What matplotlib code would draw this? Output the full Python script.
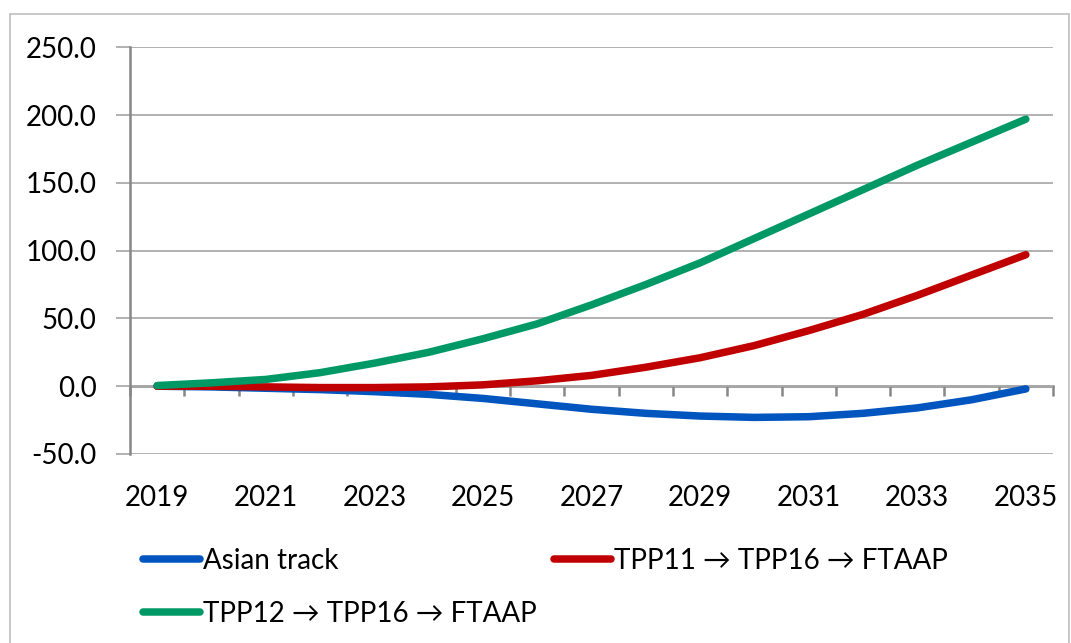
import matplotlib
matplotlib.use("Agg")
import matplotlib.pyplot as plt
from matplotlib.patches import Rectangle
import numpy as np

years = list(range(2019, 2036))
asian_track = [0.0, -0.5, -1.5, -2.5, -4.0, -6.0, -9.0, -13.0, -17.0, -20.0, -22.0, -23.0, -22.5, -20.0, -16.0, -10.0, -2.0]
tpp11_path = [0.0, 0.0, -0.5, -1.0, -1.0, -0.5, 1.0, 4.0, 8.0, 14.0, 21.0, 30.0, 41.0, 53.0, 67.0, 82.0, 97.0]
tpp12_path = [0.5, 2.5, 5.0, 10.0, 17.0, 25.0, 35.0, 46.0, 60.0, 75.0, 91.0, 109.0, 127.0, 145.0, 163.0, 180.0, 197.0]
series_labels = ["Asian track", "TPP11 \u2192 TPP16 \u2192 FTAAP", "TPP12 \u2192 TPP16 \u2192 FTAAP"]
series_colors = ["#0055BF", "#C00000", "#009966"]
y_ticks = [-50, 0, 50, 100, 150, 200, 250]

plt.rcParams['font.family'] = ['Lato', 'DejaVu Sans']
FS = 20

W, H = 1071, 643
fig = plt.figure(figsize=(W / 100, H / 100), dpi=100)
ax = fig.add_axes([130 / W, 1 - 454 / H, (1053 - 130) / W, (454 - 47.3) / H])

x = np.arange(len(years))
handles = []
for vals, lab, col in zip([asian_track, tpp11_path, tpp12_path], series_labels, series_colors):
    h, = ax.plot(x, vals, color=col, lw=5.4, solid_capstyle='round', label=lab, zorder=3)
    handles.append(h)

ax.set_xlim(-0.5, len(years) - 0.5)
ax.set_ylim(-50, 250)
ax.set_yticks(y_ticks)
ax.set_yticklabels([f"{v:.1f}" for v in y_ticks])
ax.grid(axis='y', color='#ababab', lw=1.3, zorder=0)
ax.tick_params(axis='y', length=10, width=1.3, color='#ababab', pad=14, labelsize=FS)

label_idx = list(range(0, len(years), 2))
ax.set_xticks(label_idx)
ax.set_xticklabels([str(years[i]) for i in label_idx])
ax.tick_params(axis='x', length=0, pad=22, labelsize=FS)

for s in ['top', 'right', 'bottom']:
    ax.spines[s].set_visible(False)
ax.spines['left'].set_color('#878787')
ax.spines['left'].set_linewidth(1.8)

# category axis crossing at 0
sec = ax.secondary_xaxis(50 / 300)
sec.set_xticks(np.arange(-0.5, len(years), 1.0))
sec.set_xticklabels([])
sec.tick_params(axis='x', length=7, width=1.8, color='#878787', direction='out')
sec.spines['bottom'].set_color('#878787')
sec.spines['bottom'].set_linewidth(1.8)

# legend (row-major order like reference)
order = [0, 2, 1]
fig.legend([handles[i] for i in order], [series_labels[i] for i in order],
           loc='upper left', bbox_to_anchor=(143 / W, 1 - 548 / H), ncol=2,
           frameon=False, fontsize=FS, handlelength=2.05, handletextpad=0.12,
           columnspacing=0.6, labelspacing=0.97, borderaxespad=0, borderpad=0)

# chart border
fig.patches.append(Rectangle((10 / W, -0.1), (1069 - 10) / W, 1.1 - 14 / H,
                             transform=fig.transFigure, fill=False,
                             edgecolor='#bfbfbf', lw=1.2))

fig.savefig("out.png", dpi=100)
